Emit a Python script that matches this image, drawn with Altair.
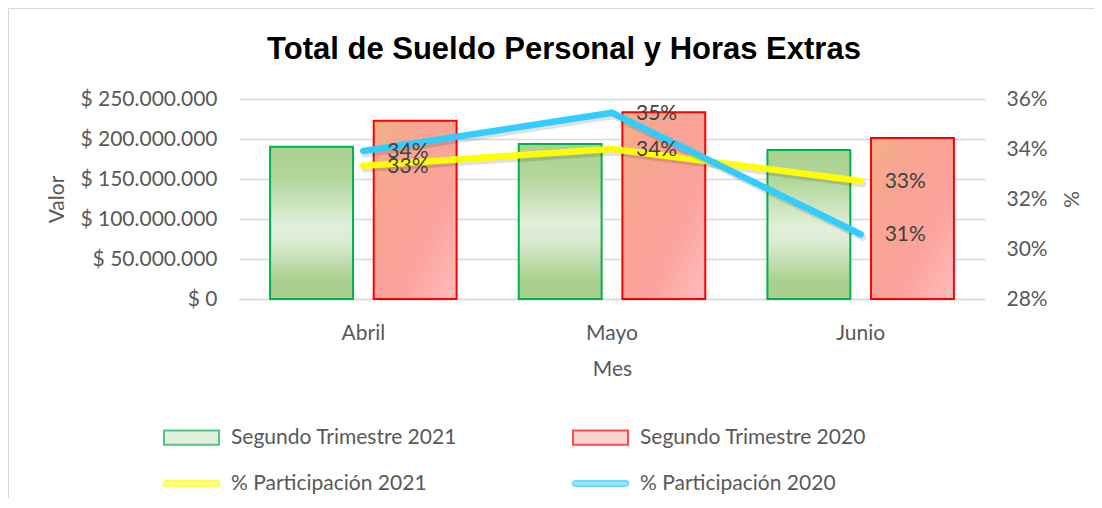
import altair as alt
import pandas as pd

# ---------------- data ----------------
meses = ["Abril", "Mayo", "Junio"]
series_barras = ["Segundo Trimestre  2021", "Segundo Trimestre  2020"]
series_lineas = ["% Participación 2021", "% Participación 2020"]
sueldo_2021 = [190.2e6, 193.6e6, 186.1e6]
sueldo_2020 = [222.8e6, 233.3e6, 201.1e6]
part_2021 = [0.3333, 0.3400, 0.3272]
part_2020 = [0.3392, 0.3545, 0.3059]
valor_ticks = [0, 50e6, 100e6, 150e6, 200e6, 250e6]
pct_ticks = [0.28, 0.30, 0.32, 0.34, 0.36]

bars_df = pd.DataFrame(
    [{"mes": m, "serie": series_barras[0], "valor": v} for m, v in zip(meses, sueldo_2021)]
    + [{"mes": m, "serie": series_barras[1], "valor": v} for m, v in zip(meses, sueldo_2020)]
)
lines_df = pd.DataFrame(
    [{"mes": m, "serie": series_lineas[0], "pct": p} for m, p in zip(meses, part_2021)]
    + [{"mes": m, "serie": series_lineas[1], "pct": p} for m, p in zip(meses, part_2020)]
)
legend_df = pd.DataFrame({"serie": series_barras + series_lineas})
border_df = pd.DataFrame({"k": [0]})

FONT = "Lato"
FS = 21
GRAY = "#595959"
GRID = "#D9D9D9"

green_grad = alt.LinearGradient(
    gradient="linear",
    stops=[
        alt.GradientStop(color="#A9D18E", offset=0),
        alt.GradientStop(color="#B2D69A", offset=0.2),
        alt.GradientStop(color="#E2EFDA", offset=0.52),
        alt.GradientStop(color="#DCEBD2", offset=0.62),
        alt.GradientStop(color="#A9D18E", offset=0.88),
        alt.GradientStop(color="#A9D18E", offset=1),
    ],
    x1=0, x2=0, y1=0, y2=1,
)
red_grad = alt.LinearGradient(
    gradient="linear",
    stops=[
        alt.GradientStop(color="#F2B085", offset=0),
        alt.GradientStop(color="#F8A493", offset=0.3),
        alt.GradientStop(color="#FCA29C", offset=0.65),
        alt.GradientStop(color="#FFBDBD", offset=1),
    ],
    x1=0, y1=0, x2=1, y2=1,
)

x_enc = alt.X(
    "mes:N", sort=meses,
    scale=alt.Scale(paddingInner=0, paddingOuter=0),
    axis=alt.Axis(title="Mes", labelAngle=0, ticks=False, domainColor=GRID, domainWidth=1.5,
                  labelPadding=23, titlePadding=15),
)
xoff = alt.XOffset("serie:N", scale=alt.Scale(domain=series_barras, paddingInner=0.2, paddingOuter=0.3))
y_left = alt.Y(
    "valor:Q",
    scale=alt.Scale(domain=[0, 250e6], nice=False),
    axis=alt.Axis(orient="left", values=valor_ticks, title="Valor", grid=True, gridColor=GRID,
                  gridWidth=1.5, domain=False, ticks=False, labelPadding=22, titlePadding=12,
                  labelExpr="'$ ' + replace(format(datum.value, ',.0f'), /,/g, '.')"),
)
y_right = alt.Y(
    "pct:Q",
    scale=alt.Scale(domain=[0.28, 0.36], nice=False),
    axis=alt.Axis(orient="right", values=pct_ticks, format=".0%", title="%", grid=False,
                  domain=False, ticks=False, labelPadding=21, titlePadding=12),
)

border = alt.Chart(border_df).mark_rect(fillOpacity=0, stroke=GRID, strokeWidth=1).encode(
    x=alt.value(-230.5), x2=alt.value(900), y=alt.value(-90.5), y2=alt.value(500)
)

green = alt.Chart(bars_df).transform_filter(
    alt.datum.serie == series_barras[0]
).mark_bar(fill=green_grad, stroke="#00B050", strokeWidth=2).encode(x=x_enc, xOffset=xoff, y=y_left)

red = alt.Chart(bars_df).transform_filter(
    alt.datum.serie == series_barras[1]
).mark_bar(fill=red_grad, stroke="#FF0000", strokeWidth=2).encode(x=x_enc, xOffset=xoff, y=y_left)

rect_path = "M-1,-0.26H1V0.26H-1Z"
line_path = "M-0.92,-0.09H0.92A0.09,0.09 0 0 1 0.92,0.09H-0.92A0.09,0.09 0 0 1 -0.92,-0.09Z"
leg_domain = series_barras + series_lineas
leg = alt.Legend(
    title=None, orient="none", legendX=-76, legendY=310, columns=2, direction="horizontal",
    gridAlign="all", columnPadding=105, rowPadding=6, padding=0, labelLimit=600,
    symbolSize=3025, symbolStrokeWidth=2, labelOffset=11,
    labelFont=FONT, labelFontSize=FS, labelColor=GRAY,
)
# invisible carrier of the legend (drawn off to the left of the canvas)
legend_pts = alt.Chart(legend_df).mark_point(filled=True, size=3025).encode(
    x=alt.value(-3000), y=alt.value(100),
    fill=alt.Fill("serie:N", scale=alt.Scale(domain=leg_domain,
                  range=["#C9E2B8", "#F9A99B", "#FFFF00", "#33CCFF"]), legend=leg),
    stroke=alt.Stroke("serie:N", scale=alt.Scale(domain=leg_domain,
                      range=["#00B050", "#FF0000", "#FFFF00", "#33CCFF"]), legend=leg),
    shape=alt.Shape("serie:N", scale=alt.Scale(domain=leg_domain,
                    range=[rect_path, rect_path, line_path, line_path]), legend=leg),
)

bars_layer = alt.layer(border, green, red, legend_pts)


def linea(serie, color):
    base = alt.Chart(lines_df).transform_filter(alt.datum.serie == serie)
    shadow = base.mark_line(stroke="#000000", strokeOpacity=0.12, strokeWidth=7,
                            strokeCap="round", strokeJoin="round", xOffset=2, yOffset=3).encode(
        x=x_enc, y=y_right)
    main = base.mark_line(stroke=color, strokeWidth=6.5, strokeCap="round",
                          strokeJoin="round").encode(x=x_enc, y=y_right)
    return shadow, main


ys, ym = linea(series_lineas[0], "#FFFF00")
bs, bm = linea(series_lineas[1], "#33CCFF")
labels = alt.Chart(lines_df).mark_text(
    align="left", baseline="middle", dx=24, dy=1, font=FONT, fontSize=FS, color="#404040"
).encode(x=x_enc, y=y_right, text=alt.Text("pct:Q", format=".0%"))

lines_layer = alt.layer(ys, ym, bs, bm, labels)

chart = alt.layer(bars_layer, lines_layer).resolve_scale(y="independent").properties(
    width=746, height=200,
    autosize=alt.AutoSizeParams(type="none"),
    padding={"left": 231, "top": 91, "right": 109, "bottom": 199},
    title=alt.TitleParams(
        "Total de Sueldo Personal y Horas Extras", font="Liberation Sans", fontSize=31,
        fontWeight="bold", color="#000000", anchor="middle", frame="group", dx=-48,
        dy=90.5, offset=9, baseline="alphabetic",
    ),
).configure_view(stroke=None).configure_axis(
    labelFont=FONT, labelFontSize=FS, labelColor=GRAY,
    titleFont=FONT, titleFontSize=FS, titleColor=GRAY, titleFontWeight="normal",
)

chart.save("out.html", embed_options={"renderer": "svg", "actions": False})
